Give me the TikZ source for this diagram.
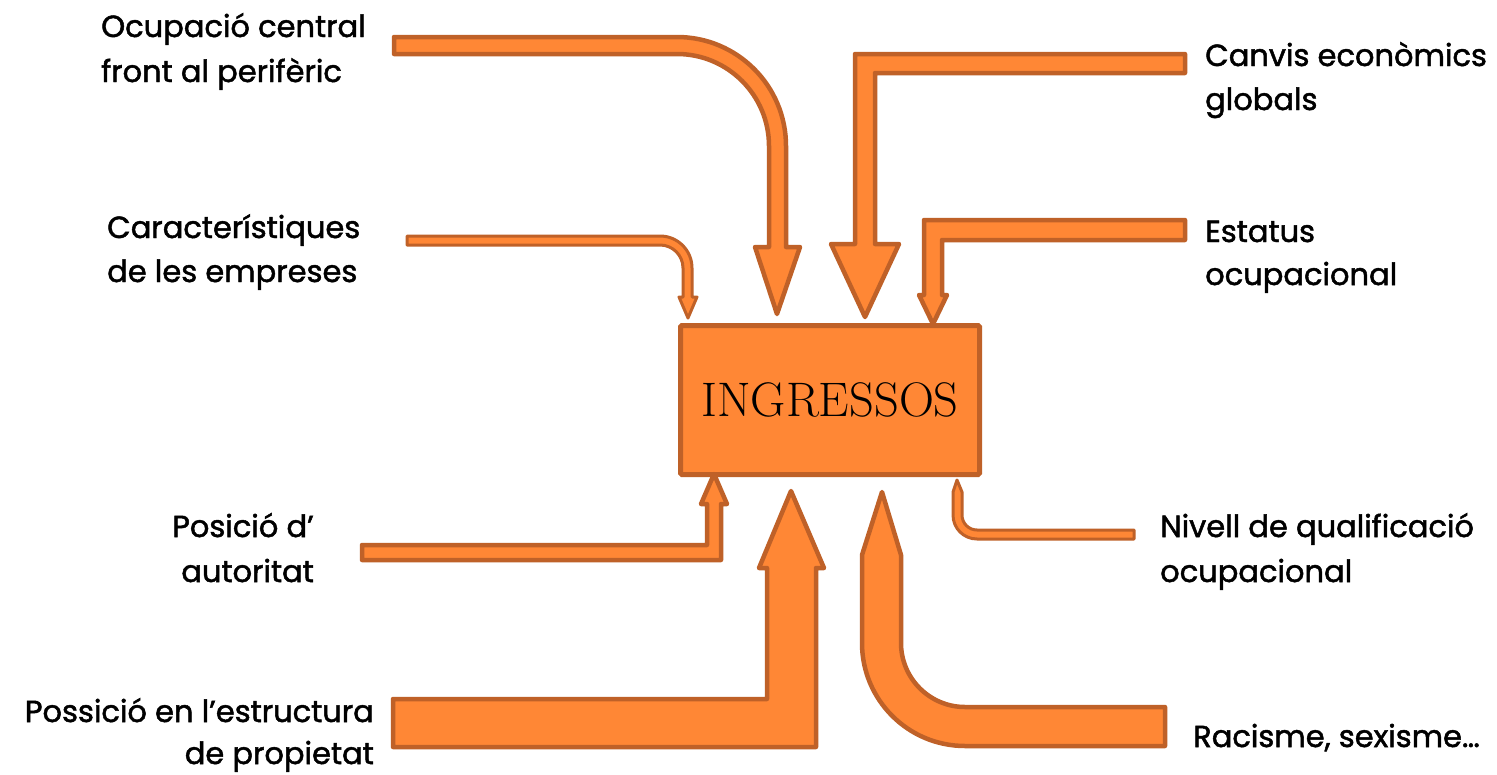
\documentclass[tikz,border=0pt]{standalone}
\usepackage{fontspec}
\newfontfamily\lblfont{Poppins}[FakeBold=1.6]
\definecolor{arrfill}{HTML}{FF8735}
\definecolor{arrline}{HTML}{BF6128}
\begin{document}
\begin{tikzpicture}[x=1pt,y=-1pt,
  bigarrow/.style={fill=arrfill,draw=arrline,line width=4.5pt,line join=round},
  thinarrow/.style={fill=arrfill,draw=arrline,line width=3pt,line join=round},
  lbl/.style={font=\lblfont\fontsize{30.5}{44}\selectfont, inner sep=0pt},
  boxstyle/.style={draw=arrline, fill=arrfill, line width=5pt, rounded corners=1.5pt,
    minimum width=299pt, minimum height=149pt, inner sep=0pt,
    font=\fontsize{48.5}{54}\selectfont},
]
\useasboundingbox (0,0) rectangle (1497,774);
\fill[white] (0,0) rectangle (1497,774);

% central box
\node[boxstyle] (box) at (830,400) {INGRESSOS};

% 1: Ocupacio central (curved, big)
\draw[bigarrow] (394,37) -- (677,37) .. controls (737.2,37) and (786,85.8) .. (786,146)
  -- (786,247) -- (800,247) -- (777,314) -- (755,247) -- (769,247) -- (769,146)
  .. controls (769,95.2) and (727.8,54) .. (677,54) -- (394,54) -- cycle;

% 2: Caracteristiques (curved, thin)
\draw[thinarrow] (407,236) -- (660,236) .. controls (677.7,236) and (692,250.3) .. (692,268)
  -- (692,297) -- (697,297) -- (688,318) -- (679,297) -- (683,297) -- (683,268)
  .. controls (683,255.3) and (672.7,245) .. (660,245) -- (407,245) -- cycle;

% 3: Canvis economics (angled, big)
\draw[bigarrow] (1185,54) -- (855,54) -- (855,244) -- (831,244) -- (865,317)
  -- (899,244) -- (875,244) -- (875,73) -- (1185,73) -- cycle;

% 4: Estatus ocupacional
\draw[bigarrow] (1185,220) -- (924,220) -- (924,295) -- (919,295) -- (933,324)
  -- (947,295) -- (942,295) -- (942,240) -- (1185,240) -- cycle;

% 5: Posicio d'autoritat
\draw[bigarrow] (362,545) -- (707,545) -- (707,504) -- (701,504) -- (714,474)
  -- (727,504) -- (721,504) -- (721,560) -- (362,560) -- cycle;

% 6: Possicio en l'estructura de propietat
\draw[bigarrow] (393,699) -- (767,699) -- (767,568) -- (759,568) -- (791,491)
  -- (824,568) -- (816,568) -- (816,747) -- (393,747) -- cycle;

% 7: Racisme, sexisme
\draw[bigarrow] (882,492) -- (901,555) -- (901,643) .. controls (901,678.3) and (929.7,707) .. (965,707)
  -- (1165,707) -- (1165,746) -- (965,746) .. controls (908.1,746) and (862,699.9) .. (862,643)
  -- (862,555) -- cycle;

% 8: Nivell de qualificacio
\draw[thinarrow] (957,480) -- (962,492) -- (962,515) .. controls (962,523.3) and (968.7,530) .. (977,530)
  -- (1134,530) -- (1134,539) -- (977,539) .. controls (963.7,539) and (953,528.3) .. (953,515)
  -- (953,492) -- cycle;

% labels
\node[lbl, anchor=base west] (l1a) at (101,37) {Ocupació central};
\node[lbl, anchor=base west] (l1b) at (101,82) {front al perifèric};
\node[lbl, anchor=base west] (l2a) at (107,238) {Característiques};
\node[lbl, anchor=base west] (l2b) at (107,282) {de les empreses};
\node[lbl, anchor=base west] (l3a) at (1205,66) {Canvis econòmics};
\node[lbl, anchor=base west] (l3b) at (1205,110) {globals};
\node[lbl, anchor=base west] (l4a) at (1205,242) {Estatus};
\node[lbl, anchor=base west] (l4b) at (1205,285) {ocupacional};
\node[lbl, anchor=base east] (l5a) at (314,537) {Posició d’};
\node[lbl, anchor=base east] (l5b) at (314,582) {autoritat};
\node[lbl, anchor=base east] (l6a) at (374,722) {Possició en l’estructura};
\node[lbl, anchor=base east] (l6b) at (374,764) {de propietat};
\node[lbl, anchor=base west] (l7a) at (1160,537) {Nivell de qualificació};
\node[lbl, anchor=base west] (l7b) at (1160,582) {ocupacional};
\node[lbl, anchor=base west] (l8) at (1193,747) {Racisme, sexisme…};
\end{tikzpicture}
\end{document}
